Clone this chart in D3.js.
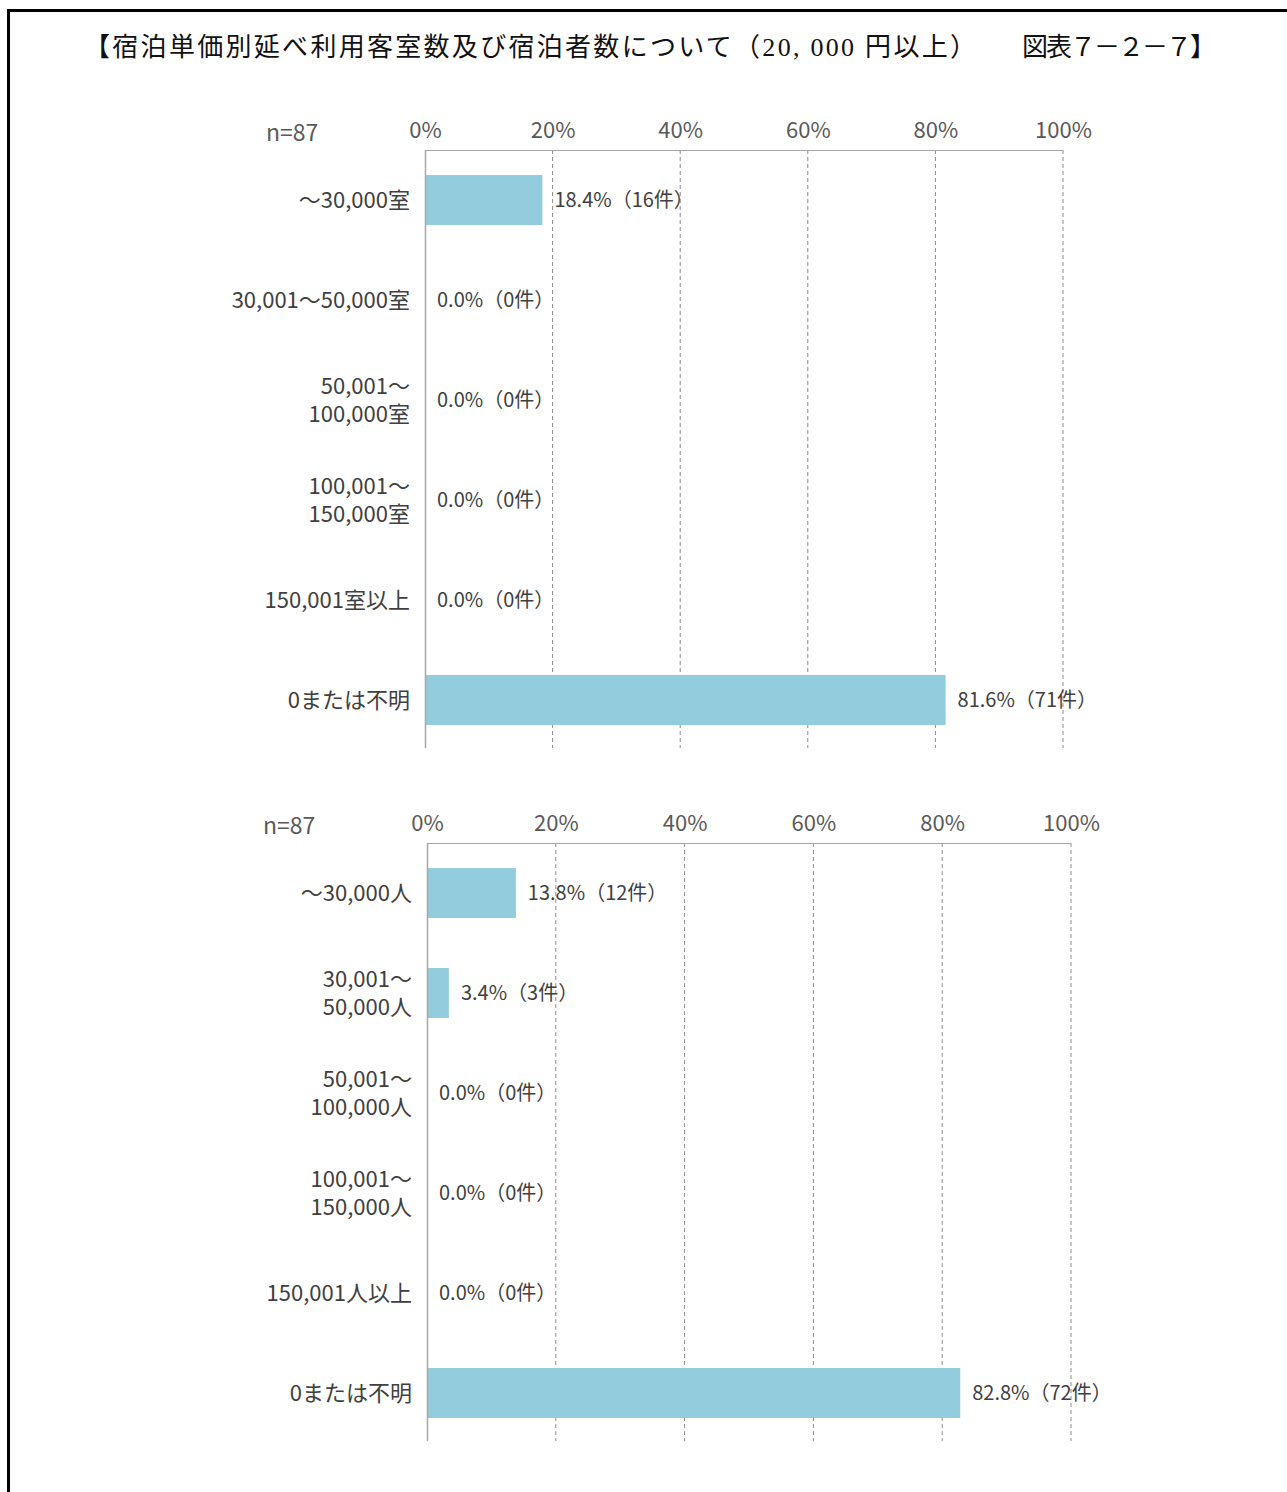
<!DOCTYPE html>
<html>
<head>
<meta charset="utf-8">
<script src="https://cdn.jsdelivr.net/npm/d3@7"></script>
<style>
  body { margin: 0; background: #fff; }
  svg { display: block; }
</style>
</head>
<body>
<svg id="chart" width="1287" height="1492"></svg>
<script>
// data
var ticks = [0, 20, 40, 60, 80, 100];
var roomCats = ["～30,000室", "30,001～50,000室", "50,001～|100,000室", "100,001～|150,000室", "150,001室以上", "0または不明"];
var roomVals = [18.4, 0, 0, 0, 0, 81.6];
var roomCounts = [16, 0, 0, 0, 0, 71];
var guestCats = ["～30,000人", "30,001～|50,000人", "50,001～|100,000人", "100,001～|150,000人", "150,001人以上", "0または不明"];
var guestVals = [13.8, 3.4, 0, 0, 0, 82.8];
var guestCounts = [12, 3, 0, 0, 0, 72];
var nLabel = "n=87";

var svg = d3.select("#chart");
var labelFont = "'Noto Sans CJK JP', 'Noto Sans', sans-serif";
var titleFont = "'Liberation Serif', 'DejaVu Serif', 'Noto Sans CJK JP', serif";

// frame (left and top edges only)
svg.append("path")
  .attr("d", "M8.5,1492 V10.5 H1287")
  .attr("fill", "none")
  .attr("stroke", "#000")
  .attr("stroke-width", 3);

// title
svg.append("text")
  .attr("x", 84).attr("y", 56)
  .attr("textLength", 892).attr("lengthAdjust", "spacing")
  .style("font-family", titleFont)
  .style("font-size", "26px")
  .attr("fill", "#111")
  .text("【宿泊単価別延べ利用客室数及び宿泊者数について（20, 000 円以上）");
svg.append("text")
  .attr("x", 1022).attr("y", 56)
  .attr("textLength", 194).attr("lengthAdjust", "spacing")
  .style("font-family", titleFont)
  .style("font-size", "26px")
  .attr("fill", "#111")
  .text("図表７－２－７】");

function drawChart(cats, vals, counts, left, right, top, bottom, nx) {
  var x = d3.scaleLinear().domain([0, 100]).range([left, right]);
  var y = d3.scaleBand().domain(d3.range(cats.length)).range([top, bottom]).paddingInner(0.5).paddingOuter(0.25);
  var g = svg.append("g");

  // dashed grid
  g.selectAll("line.grid")
    .data(ticks.slice(1))
    .enter().append("line")
    .attr("class", "grid")
    .attr("x1", function(d) { return x(d); })
    .attr("x2", function(d) { return x(d); })
    .attr("y1", top).attr("y2", bottom - 2)
    .attr("stroke", "#8c8c8c")
    .attr("stroke-width", 1)
    .attr("stroke-dasharray", "4,3");

  // top axis line
  g.append("line")
    .attr("x1", x(0)).attr("x2", x(100))
    .attr("y1", top + 0.5).attr("y2", top + 0.5)
    .attr("stroke", "#a6a6a6");

  // tick labels
  var axis = d3.axisTop(x).tickValues(ticks).tickSize(0).tickPadding(0)
    .tickFormat(function(d) { return d + "%"; });
  var ax = g.append("g").attr("transform", "translate(0," + (top - 12) + ")").call(axis);
  ax.select(".domain").remove();
  ax.selectAll("text")
    .style("font-family", labelFont)
    .style("font-size", "22px")
    .attr("fill", "#595959");

  g.append("text")
    .attr("x", nx).attr("y", top - 9)
    .style("font-family", labelFont)
    .style("font-size", "23px")
    .attr("fill", "#595959")
    .text(nLabel);

  // bars
  g.selectAll("rect.bar")
    .data(vals)
    .enter().append("rect")
    .attr("class", "bar")
    .attr("x", x(0))
    .attr("y", function(d, i) { return y(i); })
    .attr("width", function(d) { return x(d) - x(0); })
    .attr("height", y.bandwidth())
    .attr("fill", "#93cddd");

  // left axis
  g.append("line")
    .attr("x1", x(0) + 0.5).attr("x2", x(0) + 0.5)
    .attr("y1", top).attr("y2", bottom - 2)
    .attr("stroke", "#a6a6a6")
    .attr("stroke-width", 1.5);

  // value labels
  g.selectAll("text.val")
    .data(vals)
    .enter().append("text")
    .attr("class", "val")
    .attr("x", function(d) { return x(d) + 12; })
    .attr("y", function(d, i) { return y(i) + y.bandwidth() / 2; })
    .attr("dy", "0.36em")
    .style("font-family", labelFont)
    .style("font-size", "20px")
    .attr("fill", "#404040")
    .text(function(d, i) { return d.toFixed(1) + "%（" + counts[i] + "件）"; });

  // category labels, two-line ones split at "|"
  var cl = g.selectAll("text.cat")
    .data(cats)
    .enter().append("text")
    .attr("class", "cat")
    .attr("x", x(0) - 15)
    .attr("y", function(d, i) { return y(i) + y.bandwidth() / 2; })
    .attr("text-anchor", "end")
    .style("font-family", labelFont)
    .style("font-size", "22px")
    .attr("fill", "#404040");
  cl.each(function(d) {
    var lines = d.split("|");
    var t = d3.select(this);
    lines.forEach(function(s, k) {
      t.append("tspan")
        .attr("x", t.attr("x"))
        .attr("dy", k === 0 ? (0.36 - (lines.length - 1) * 0.65) + "em" : "1.3em")
        .text(s);
    });
  });
}

drawChart(roomCats, roomVals, roomCounts, 425, 1063, 150, 750, 266);
drawChart(guestCats, guestVals, guestCounts, 427, 1071, 843, 1443, 263);
</script>
</body>
</html>
